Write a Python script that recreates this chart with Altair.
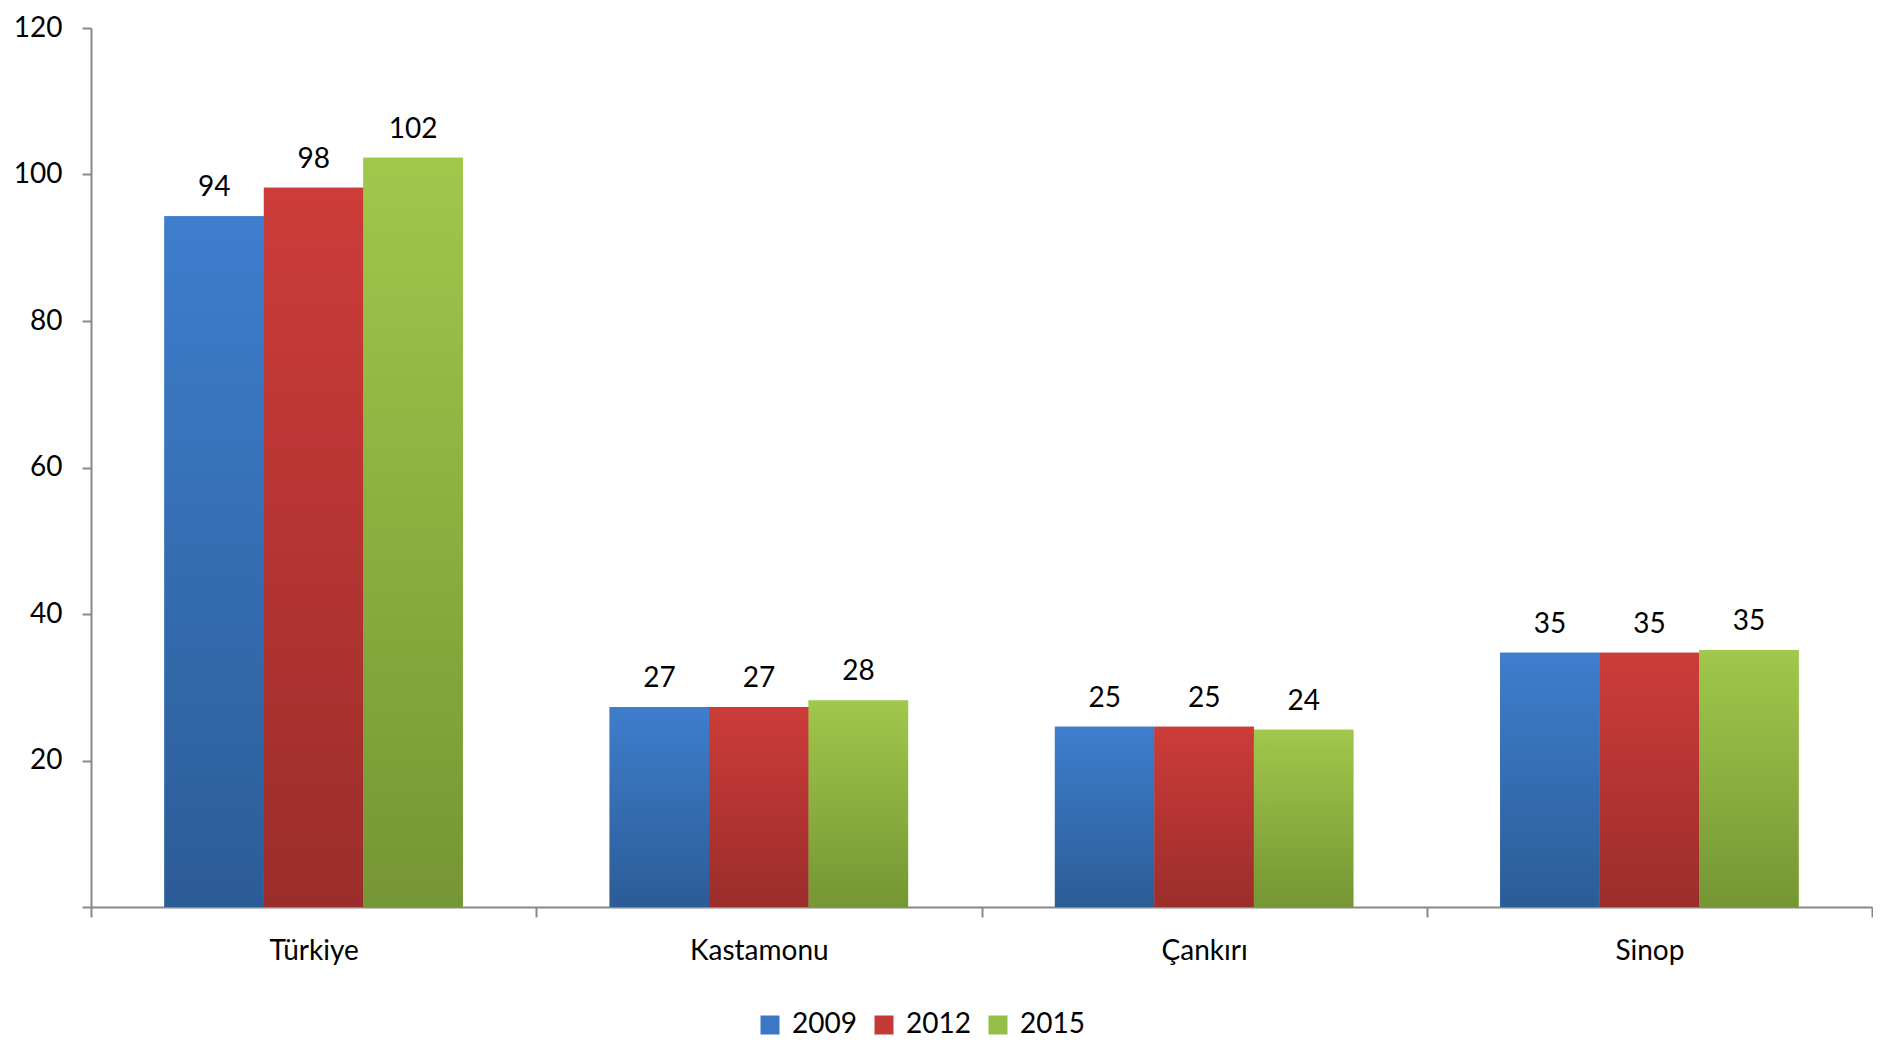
import altair as alt
import pandas as pd

categories = ["Türkiye", "Kastamonu", "Çankırı", "Sinop"]
years = ["2009", "2012", "2015"]
values_2009 = [94.3, 27.3, 24.6, 34.7]
values_2012 = [98.2, 27.3, 24.6, 34.7]
values_2015 = [102.3, 28.2, 24.2, 35.1]
y_ticks = [0, 20, 40, 60, 80, 100, 120]

solid = ["#3A78C4", "#C43A37", "#94BE46"]
grad = {
    "2009": ("#3E7ECD", "#2C5C97"),
    "2012": ("#CD3C39", "#9B2D2B"),
    "2015": ("#A0C84B", "#759634"),
}

rows = []
for yr, vals in zip(years, [values_2009, values_2012, values_2015]):
    for c, v in zip(categories, vals):
        rows.append({"cat": c, "year": yr, "value": v})
df = pd.DataFrame(rows)

FONT = "Lato"

x = alt.X(
    "cat:N",
    sort=categories,
    scale=alt.Scale(paddingInner=0, paddingOuter=0),
    axis=alt.Axis(
        title=None, labelAngle=0, tickBand="extent", tickSize=10,
        labelPadding=20, labelFontSize=28, labelFont=FONT, labelColor="#000000",
        domainColor="#888888", tickColor="#888888", domainWidth=2, tickWidth=2,
    ),
)
xo = alt.XOffset("year:N", sort=years, scale=alt.Scale(paddingOuter=0.7375, paddingInner=0))
y = alt.Y(
    "value:Q",
    scale=alt.Scale(domain=[0, 120], nice=False),
    axis=alt.Axis(
        title=None, values=y_ticks, grid=False, tickSize=9, labelPadding=20,
        labelFontSize=28, labelFont=FONT, labelColor="#000000",
        labelExpr="datum.value == 0 ? '' : datum.label",
        domainColor="#888888", tickColor="#888888", domainWidth=2, tickWidth=2,
    ),
)

base = alt.Chart(df).mark_bar().encode(
    x=x, xOffset=xo, y=y,
    color=alt.Color(
        "year:N", sort=years,
        scale=alt.Scale(domain=years, range=solid),
        legend=alt.Legend(
            title=None, orient="none", direction="horizontal",
            legendX=665, legendY=983, symbolType="square", symbolSize=361,
            symbolStrokeWidth=0, labelFontSize=28, labelFont=FONT,
            labelColor="#000000", labelOffset=8, columnPadding=13, padding=0,
        ),
    ),
)

layers = [base]
for yr in years:
    top, bot = grad[yr]
    layers.append(
        alt.Chart(df).transform_filter(alt.datum.year == yr).mark_bar(
            color=alt.Gradient(
                gradient="linear",
                stops=[alt.GradientStop(color=top, offset=0), alt.GradientStop(color=bot, offset=1)],
                x1=0, x2=0, y1=0, y2=1,
            )
        ).encode(x=x, xOffset=xo, y=y)
    )

labels = alt.Chart(df).mark_text(
    baseline="alphabetic", dy=-20, fontSize=28, font=FONT, color="#000000"
).encode(x=x, xOffset=xo, y=y, text=alt.Text("value:Q", format=".0f"))
layers.append(labels)

chart = alt.layer(*layers).properties(
    width=1781, height=879,
    autosize=alt.AutoSizeParams(type="none"),
    padding={"left": 83, "top": 20, "right": 1, "bottom": 133},
).configure_view(strokeWidth=0)

chart.save("out.html", embed_options={"renderer": "svg", "actions": False})
